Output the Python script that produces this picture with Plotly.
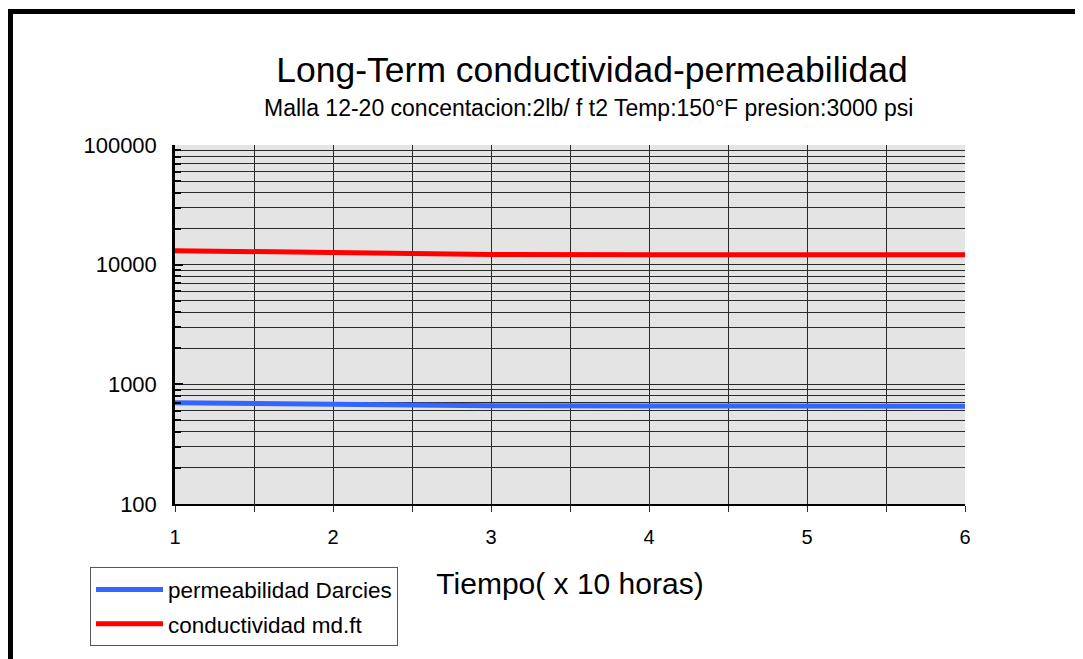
import plotly.graph_objects as go

# ---- data ----
tiempo = [1, 2, 3, 4, 5, 6]
permeabilidad = [700, 675, 663, 659, 657, 655]
conductividad = [13100, 12500, 12150, 12100, 12100, 12100]

x_tick_vals = [1, 2, 3, 4, 5, 6]
y_tick_vals = [100, 1000, 10000, 100000]
y_tick_text = ["100", "1000", "10000", "100000"]
y_minor_vals = [m * d for d in (100, 1000, 10000) for m in range(2, 10)]

title_text = "Long-Term conductividad-permeabilidad"
subtitle_text = "Malla 12-20 concentacion:2lb/ f t2 Temp:150°F presion:3000 psi"
x_title = "Tiempo( x 10 horas)"

FONT = "Liberation Sans, Arial, sans-serif"
GRID = "#2a2a2a"

# page body adds an ~8px offset, so the figure is drawn 8px smaller
W, H = 1075, 651
L, T, R, B = 167, 137, 118, 152
PW, PH = W - L - R, H - T - B  # 790 x 362


def px_x(x):
    return (x - 8 - L) / PW


def px_y(y):
    return (H - B - (y - 8)) / PH


fig = go.Figure()
fig.add_trace(go.Scatter(x=tiempo, y=permeabilidad, mode="lines",
                         name="permeabilidad Darcies", legendgroup="a",
                         line=dict(color="#3366ff", width=5)))
fig.add_trace(go.Scatter(x=tiempo, y=conductividad, mode="lines",
                         name="conductividad md.ft", legendgroup="b",
                         line=dict(color="#ff0000", width=5)))

fig.update_layout(
    width=W, height=H,
    margin=dict(l=L, r=R, t=T, b=B),
    paper_bgcolor="white",
    plot_bgcolor="#e4e4e4",
    font=dict(family=FONT, color="black", size=20),
    title=dict(text=title_text, font=dict(size=35.5, family=FONT),
               x=(592 - 8) / W, xanchor="center", xref="container",
               y=1 - (70 - 8) / H, yanchor="middle", yref="container"),
    showlegend=True,
    legend=dict(x=px_x(90), y=px_y(571), xanchor="left", yanchor="top",
                bordercolor="#555555", borderwidth=1, bgcolor="white",
                font=dict(size=22.5, family=FONT), itemwidth=67,
                traceorder="grouped", tracegroupgap=2),
    annotations=[dict(text=subtitle_text, xref="paper", yref="paper",
                      x=px_x(588), y=px_y(108),
                      xanchor="center", yanchor="middle", showarrow=False,
                      font=dict(size=23, family=FONT))],
    shapes=[dict(type="rect", xref="paper", yref="paper",
                 x0=px_x(10.5), x1=1.4, y0=-0.9, y1=px_y(10.5),
                 line=dict(color="black", width=5), fillcolor="rgba(0,0,0,0)",
                 layer="above")],
)

fig.update_xaxes(
    range=[1, 6], tickmode="array", tickvals=x_tick_vals,
    ticks="outside", ticklen=6, tickcolor=GRID, tickwidth=1,
    showgrid=True, gridcolor=GRID, gridwidth=1,
    minor=dict(dtick=0.5, tick0=1, showgrid=True, gridcolor=GRID, gridwidth=1,
               ticks="outside", ticklen=6, tickcolor=GRID),
    showline=True, linecolor="black", linewidth=1.5,
    zeroline=False, tickfont=dict(size=20),
    ticklabelstandoff=8,
    title=dict(text=x_title, font=dict(size=30), standoff=26),
)
fig.update_yaxes(
    type="log", range=[2, 5], tickmode="array",
    tickvals=y_tick_vals, ticktext=y_tick_text,
    ticks="inside", ticklen=8, tickwidth=2, tickcolor="black",
    showgrid=True, gridcolor=GRID, gridwidth=1,
    minor=dict(tickmode="array", tickvals=y_minor_vals, showgrid=True,
               gridcolor=GRID, gridwidth=1, ticks="inside", ticklen=6,
               tickcolor="black", tickwidth=2),
    showline=True, linecolor="black", linewidth=2.5,
    zeroline=False, tickfont=dict(size=22),
    ticklabelstandoff=11,
)

fig.write_html("out.html")
